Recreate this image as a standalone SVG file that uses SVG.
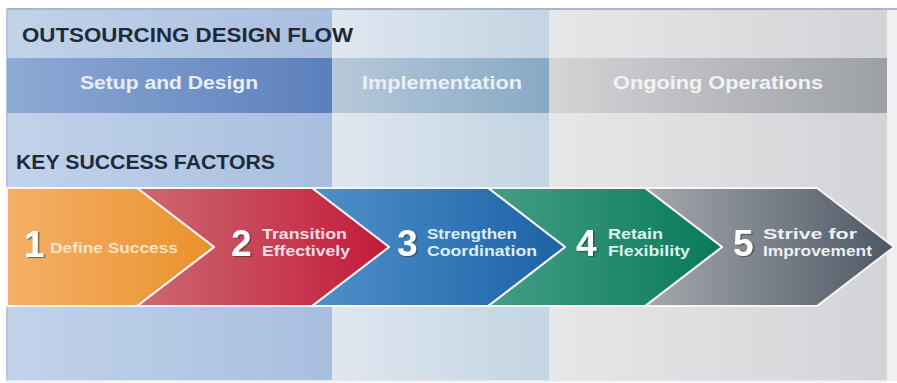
<svg xmlns="http://www.w3.org/2000/svg" width="897" height="383" viewBox="0 0 897 383">
<defs>
<linearGradient id="c1bg" x1="0" y1="0" x2="1" y2="0"><stop offset="0" stop-color="#c2d3ea"/><stop offset="1" stop-color="#a8bfe0"/></linearGradient>
<linearGradient id="c1bar" x1="0" y1="0" x2="1" y2="0"><stop offset="0" stop-color="#8eaad5"/><stop offset="1" stop-color="#5a80bc"/></linearGradient>
<linearGradient id="c2bg" x1="0" y1="0" x2="1" y2="0"><stop offset="0" stop-color="#e0e7ef"/><stop offset="1" stop-color="#c3d4e2"/></linearGradient>
<linearGradient id="c2bar" x1="0" y1="0" x2="1" y2="0"><stop offset="0" stop-color="#b7c9d9"/><stop offset="1" stop-color="#87a9c5"/></linearGradient>
<linearGradient id="c3bg" x1="0" y1="0" x2="1" y2="0"><stop offset="0" stop-color="#e5e7e9"/><stop offset="1" stop-color="#d2d4d7"/></linearGradient>
<linearGradient id="c3bar" x1="0" y1="0" x2="1" y2="0"><stop offset="0" stop-color="#d3d5d7"/><stop offset="1" stop-color="#9c9fa4"/></linearGradient>
<linearGradient id="gOr" x1="0" y1="0" x2="1" y2="0"><stop offset="0" stop-color="#f5b068"/><stop offset="1" stop-color="#ea922c"/></linearGradient>
<linearGradient id="gRd" x1="0" y1="0" x2="1" y2="0"><stop offset="0" stop-color="#cd6a70"/><stop offset="1" stop-color="#c21a3a"/></linearGradient>
<linearGradient id="gBl" x1="0" y1="0" x2="1" y2="0"><stop offset="0" stop-color="#4f90ca"/><stop offset="1" stop-color="#1b62a6"/></linearGradient>
<linearGradient id="gGr" x1="0" y1="0" x2="1" y2="0"><stop offset="0" stop-color="#449e86"/><stop offset="1" stop-color="#08795a"/></linearGradient>
<linearGradient id="gGy" x1="0" y1="0" x2="1" y2="0"><stop offset="0" stop-color="#a5a8ad"/><stop offset="1" stop-color="#4d5864"/></linearGradient>
<filter id="sh" x="-30%" y="-30%" width="160%" height="160%"><feDropShadow dx="1.5" dy="1" stdDeviation="0.7" flood-color="#333" flood-opacity="0.6"/></filter>
</defs>
<style>
.chev{stroke:#fbf4f4;stroke-width:2;stroke-linejoin:round}
.num{font-family:"Liberation Sans",Arial,sans-serif;font-weight:bold;font-size:37px;fill:#ffffff}
.lbl{font-family:"Liberation Sans",Arial,sans-serif;font-weight:bold;font-size:15px}
.hdr{font-family:"Liberation Sans",Arial,sans-serif;font-weight:bold;fill:#1f2a38}
.ph{font-family:"Liberation Sans",Arial,sans-serif;font-weight:bold;font-size:18px}
</style>
<rect x="0" y="0" width="897" height="383" fill="#ffffff"/>
<g id="background">
<rect x="7" y="9" width="325" height="372" fill="url(#c1bg)"/>
<rect x="332" y="9" width="217" height="372" fill="url(#c2bg)"/>
<rect x="549" y="9" width="338" height="372" fill="url(#c3bg)"/>
<rect x="887" y="9" width="10" height="372" fill="#eef0f2"/>
<line x1="7" y1="9" x2="897" y2="9" stroke="#a9b5c8" stroke-width="2"/>
<line x1="7" y1="9" x2="7" y2="381" stroke="#b7c6dc" stroke-width="2"/>
<line x1="7" y1="381" x2="887" y2="381" stroke="#e8edf3" stroke-width="2"/>
</g>
<g id="title">
<text class="hdr" x="22" y="42" font-size="21" textLength="331" lengthAdjust="spacingAndGlyphs">OUTSOURCING DESIGN FLOW</text>
<text class="hdr" x="16" y="169" font-size="20" textLength="259" lengthAdjust="spacingAndGlyphs">KEY SUCCESS FACTORS</text>
</g>
<g id="phase-setup">
<rect x="7" y="58" width="325" height="55" fill="url(#c1bar)"/>
<text class="ph" x="80" y="89" fill="#e8eef8" textLength="178" lengthAdjust="spacingAndGlyphs">Setup and Design</text>
</g>
<g id="phase-implementation">
<rect x="332" y="58" width="217" height="55" fill="url(#c2bar)"/>
<text class="ph" x="362" y="89" fill="#eaf0f5" textLength="160" lengthAdjust="spacingAndGlyphs">Implementation</text>
</g>
<g id="phase-operations">
<rect x="549" y="58" width="338" height="55" fill="url(#c3bar)"/>
<text class="ph" x="613" y="89" fill="#f2f3f4" textLength="210" lengthAdjust="spacingAndGlyphs">Ongoing Operations</text>
</g>
<g id="connectors"></g>
<g id="factor-5">
<path class="chev" fill="url(#gGy)" d="M645,188 H817 L894,247 L817,306 H645 L722,247 Z"/>
<text class="num" x="733" y="256" filter="url(#sh)">5</text>
<text class="lbl" fill="#eef0f2" x="763" y="239" textLength="94" lengthAdjust="spacingAndGlyphs">Strive for</text>
<text class="lbl" fill="#eef0f2" x="763" y="256" textLength="109" lengthAdjust="spacingAndGlyphs">Improvement</text>
</g>
<g id="factor-4">
<path class="chev" fill="url(#gGr)" d="M488,188 H645 L722,247 L645,306 H488 L565,247 Z"/>
<text class="num" x="576" y="256" filter="url(#sh)">4</text>
<text class="lbl" fill="#dcf2e9" x="608" y="239" textLength="55" lengthAdjust="spacingAndGlyphs">Retain</text>
<text class="lbl" fill="#dcf2e9" x="608" y="256" textLength="82" lengthAdjust="spacingAndGlyphs">Flexibility</text>
</g>
<g id="factor-3">
<path class="chev" fill="url(#gBl)" d="M312,188 H488 L565,247 L488,306 H312 L389,247 Z"/>
<text class="num" x="397" y="256" filter="url(#sh)">3</text>
<text class="lbl" fill="#dcedf9" x="427" y="239" textLength="90" lengthAdjust="spacingAndGlyphs">Strengthen</text>
<text class="lbl" fill="#dcedf9" x="427" y="256" textLength="110" lengthAdjust="spacingAndGlyphs">Coordination</text>
</g>
<g id="factor-2">
<path class="chev" fill="url(#gRd)" d="M137,188 H312 L389,247 L312,306 H137 L214,247 Z"/>
<text class="num" x="231" y="256" filter="url(#sh)">2</text>
<text class="lbl" fill="#f9dde2" x="262" y="239" textLength="85" lengthAdjust="spacingAndGlyphs">Transition</text>
<text class="lbl" fill="#f9dde2" x="262" y="256" textLength="88" lengthAdjust="spacingAndGlyphs">Effectively</text>
</g>
<g id="factor-1">
<path class="chev" fill="url(#gOr)" d="M7,188 H137 L214,247 L137,306 H7 Z"/>
<text class="num" x="24" y="257" filter="url(#sh)">1</text>
<text class="lbl" fill="#fce4c6" x="50" y="253" font-size="18" textLength="128" lengthAdjust="spacingAndGlyphs">Define Success</text>
</g>
</svg>
